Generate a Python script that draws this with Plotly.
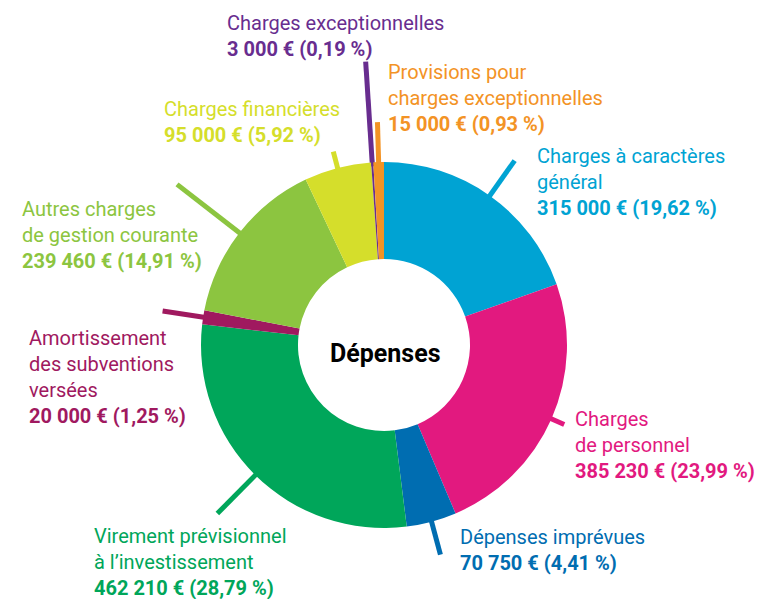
import math
import plotly.graph_objects as go

# ---- data ----
categories = [
    "Charges à caractères<br>général",
    "Charges<br>de personnel",
    "Dépenses imprévues",
    "Virement prévisionnel<br>à l’investissement",
    "Amortissement<br>des subventions<br>versées",
    "Autres charges<br>de gestion courante",
    "Charges financières",
    "Charges exceptionnelles",
    "Provisions pour<br>charges exceptionnelles",
]
values = [315000, 385230, 70750, 462210, 20000, 239460, 95000, 3000, 15000]
percent_labels = ["19,62", "23,99", "4,41", "28,79", "1,25", "14,91", "5,92", "0,19", "0,93"]
center_title = "Dépenses"

# ---- styles ----
colors = ["#00A3D3", "#E2197F", "#006DB1", "#00A65A", "#A0195F",
          "#8CC540", "#D5DE2B", "#682D8F", "#F39325"]
leader_outer = [226, 197, 217, 237, 224, 262, 200, 284, 223]
label_pos = [(535, 182), (573, 445), (458, 550), (92, 561.5), (27, 376.5),
             (20, 235), (162, 121.5), (225, 35.5), (386, 97.5)]

W, H = 767, 599
CX, CY, R = 384, 345, 183
HOLE = 0.47
FONT = "Roboto"
FS = 20


def fmt_eur(v):
    s = f"{v:,}".replace(",", "\u00a0")
    return s + "\u00a0€"


fig = go.Figure()

# leader lines, computed from slice mid-angles
total = sum(values)
cum = 0
for v, col, ro in zip(values, colors, leader_outer):
    mid = 2 * math.pi * (cum + v / 2) / total
    cum += v
    r0 = R - 4
    xs = [CX + r0 * math.sin(mid), CX + ro * math.sin(mid)]
    ys = [CY - r0 * math.cos(mid), CY - ro * math.cos(mid)]
    fig.add_trace(go.Scatter(x=xs, y=ys, mode="lines",
                             line=dict(color=col, width=5),
                             hoverinfo="skip", showlegend=False))

fig.add_trace(go.Pie(
    labels=[c.replace("<br>", " ") for c in categories],
    values=values,
    sort=False,
    direction="clockwise",
    rotation=0,
    hole=HOLE,
    marker=dict(colors=colors, line=dict(width=0)),
    textinfo="none",
    hoverinfo="label+value+percent",
    showlegend=False,
    domain=dict(x=[(CX - R) / W, (CX + R) / W],
                y=[1 - (CY + R) / H, 1 - (CY - R) / H]),
))

for cat, v, p, col, (lx, ly) in zip(categories, values, percent_labels, colors, label_pos):
    fig.add_annotation(
        x=lx, y=ly, xref="x", yref="y",
        text=f"{cat}<br><b>{fmt_eur(v)} ({p}\u00a0%)</b>",
        showarrow=False, xanchor="left", yanchor="middle", align="left",
        font=dict(family=FONT, size=FS, color=col),
    )

fig.add_annotation(
    x=CX + 1, y=CY + 8, xref="x", yref="y",
    text=f"<b>{center_title}</b>", showarrow=False,
    xanchor="center", yanchor="middle",
    font=dict(family=FONT, size=25, color="#000000"),
)

fig.update_layout(
    width=W, height=H,
    margin=dict(l=0, r=0, t=0, b=0),
    paper_bgcolor="white", plot_bgcolor="white",
    xaxis=dict(range=[0, W], visible=False, fixedrange=True),
    yaxis=dict(range=[H, 0], visible=False, fixedrange=True),
)

fig.write_html(
    "out.html",
    config={"displayModeBar": False},
    post_script="document.body.style.margin='0';document.body.style.overflow='hidden';",
)
